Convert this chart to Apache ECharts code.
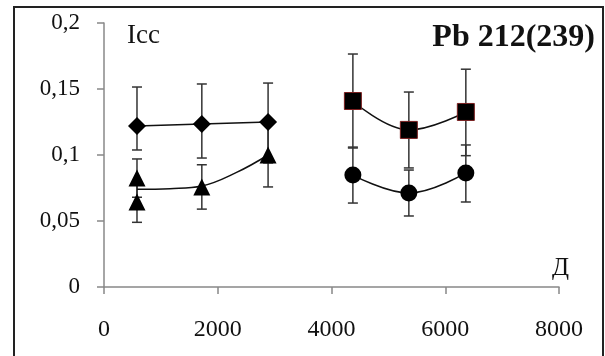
<!DOCTYPE html>
<html>
<head>
<meta charset="utf-8">
<script src="https://cdn.jsdelivr.net/npm/echarts@6/dist/echarts.min.js"></script>
<style>
  html, body { margin: 0; padding: 0; background: #fff; }
  #chart { width: 605px; height: 356px; }
</style>
</head>
<body>
<div id="chart"></div>
<script>
// x positions (Д)
var xLeft = [580, 1720, 2885];
var xRight = [4376, 5360, 6362];

// diamonds
var diamondY = [0.122, 0.1235, 0.125];
var diamondLow = [0.1038, 0.0977, 0.094];
var diamondHigh = [0.1515, 0.1538, 0.1545];

// triangles (two at the first x)
var triX = [580, 580, 1720, 2885];
var triY = [0.0826, 0.0644, 0.0758, 0.1];
var triLow = [0.068, 0.049, 0.059, 0.0758];
var triHigh = [0.097, 0.079, 0.0926, 0.124];
// trend curve through triangles
var triTrendX = [580, 1160, 1720, 2340, 2885];
var triTrendY = [0.074, 0.0745, 0.0765, 0.087, 0.1];

// squares
var sqY = [0.1409, 0.119, 0.1326];
var sqLow = [0.1053, 0.0902, 0.0995];
var sqHigh = [0.1765, 0.1477, 0.165];

// circles
var cirY = [0.0848, 0.0712, 0.0864];
var cirLow = [0.0636, 0.0538, 0.0644];
var cirHigh = [0.106, 0.0886, 0.1076];

// axis ticks
var yTicks = [0, 0.05, 0.1, 0.15, 0.2];
var xTicks = [0, 2000, 4000, 6000, 8000];

function pairs(xs, ys) {
  return xs.map(function (x, i) { return [x, ys[i]]; });
}
function errData(xs, lo, hi) {
  return xs.map(function (x, i) { return [x, lo[i], hi[i]]; });
}

function renderErr(params, api) {
  var x = api.value(0);
  var pLo = api.coord([x, api.value(1)]);
  var pHi = api.coord([x, api.value(2)]);
  var w = 5;
  var st = { stroke: '#333', lineWidth: 1.5 };
  return {
    type: 'group',
    children: [
      { type: 'line', shape: { x1: pLo[0], y1: pLo[1], x2: pHi[0], y2: pHi[1] }, style: st },
      { type: 'line', shape: { x1: pLo[0] - w, y1: pLo[1], x2: pLo[0] + w, y2: pLo[1] }, style: st },
      { type: 'line', shape: { x1: pHi[0] - w, y1: pHi[1], x2: pHi[0] + w, y2: pHi[1] }, style: st }
    ]
  };
}

function errSeries(data) {
  return {
    type: 'custom',
    renderItem: renderErr,
    data: data,
    encode: { x: 0, y: [1, 2] },
    z: 1,
    silent: true
  };
}

var chart = echarts.init(document.getElementById('chart'));

var labelFont = 'Liberation Serif';

var option = {
  animation: false,
  backgroundColor: '#fff',
  grid: { left: 104, right: 46, top: 23, bottom: 69 },
  xAxis: {
    type: 'value',
    min: xTicks[0],
    max: xTicks[xTicks.length - 1],
    interval: 2000,
    splitLine: { show: false },
    axisLine: { lineStyle: { color: '#888', width: 1.5 } },
    axisTick: { length: 7, lineStyle: { color: '#888', width: 1.5 } },
    axisLabel: {
      color: '#111', fontFamily: labelFont, fontSize: 24, margin: 31,
      formatter: function (v) { return String(v); }
    }
  },
  yAxis: {
    type: 'value',
    min: yTicks[0],
    max: yTicks[yTicks.length - 1],
    interval: 0.05,
    splitLine: { show: false },
    axisLine: { show: true, lineStyle: { color: '#888', width: 1.5 } },
    axisTick: { show: true, length: 7, lineStyle: { color: '#888', width: 1.5 } },
    axisLabel: {
      color: '#111', fontFamily: labelFont, fontSize: 23, margin: 24,
      formatter: function (v) { return String(+v.toFixed(2)).replace('.', ','); }
    }
  },
  graphic: [
    { type: 'rect', shape: { x: 14, y: 7, width: 589, height: 370 },
      style: { fill: 'none', stroke: '#222', lineWidth: 2 }, z: 0 },
    { type: 'text', left: 127, top: 22,
      style: { text: 'Icc', fill: '#111', fontFamily: labelFont, fontSize: 27 } },
    { type: 'text', right: 10, top: 22,
      style: { text: 'Pb 212(239)', fill: '#111', fontFamily: labelFont, fontSize: 32, fontWeight: 'bold' } },
    { type: 'text', left: 552, top: 256,
      style: { text: 'Д', fill: '#111', fontFamily: labelFont, fontSize: 25 } }
  ],
  series: [
    errSeries(errData(xLeft, diamondLow, diamondHigh)),
    errSeries(errData(triX, triLow, triHigh)),
    errSeries(errData(xRight, sqLow, sqHigh)),
    errSeries(errData(xRight, cirLow, cirHigh)),
    {
      type: 'line', data: pairs(triTrendX, triTrendY), smooth: 0.4,
      showSymbol: false, lineStyle: { color: '#111', width: 1.5 }, z: 2
    },
    {
      type: 'line', data: pairs(xLeft, diamondY), symbol: 'diamond', symbolSize: 18,
      itemStyle: { color: '#000', opacity: 1 }, lineStyle: { color: '#111', width: 1.5 }, z: 3
    },
    {
      type: 'scatter', data: pairs(triX, triY), symbol: 'triangle', symbolSize: 17,
      itemStyle: { color: '#000', opacity: 1 }, z: 3
    },
    {
      type: 'line', data: pairs(xRight, sqY), symbol: 'rect', symbolSize: 17, smooth: 0.4,
      itemStyle: { color: '#000', opacity: 1, borderColor: '#7a2020', borderWidth: 1 },
      lineStyle: { color: '#111', width: 1.5 }, z: 3
    },
    {
      type: 'line', data: pairs(xRight, cirY), symbol: 'circle', symbolSize: 17, smooth: 0.4,
      itemStyle: { color: '#000', opacity: 1 }, lineStyle: { color: '#111', width: 1.5 }, z: 3
    }
  ]
};

chart.setOption(option);
</script>
</body>
</html>
